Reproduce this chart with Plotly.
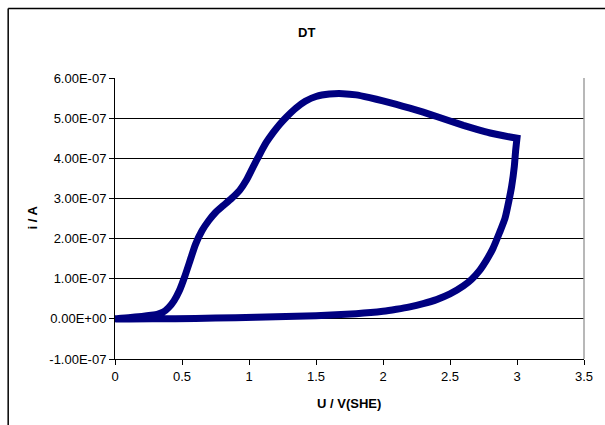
import plotly.graph_objects as go

# ---- data (potential in V vs SHE, current in units of 1e-7 A) ----
fwd_u = [0.0, 0.1, 0.2, 0.27, 0.32, 0.36, 0.4, 0.44, 0.48, 0.52, 0.56, 0.6, 0.65, 0.7, 0.75, 0.8,
         0.87, 0.93, 0.98, 1.03, 1.08, 1.13, 1.18, 1.23, 1.28, 1.35, 1.42, 1.5, 1.6, 1.7,
         1.8, 1.9, 2.0, 2.1, 2.2, 2.3, 2.4, 2.5, 2.6, 2.7, 2.8, 2.9, 3.0]
fwd_i = [0.0, 0.03, 0.06, 0.09, 0.12, 0.17, 0.28, 0.45, 0.7, 1.05, 1.45, 1.85, 2.2, 2.45, 2.65, 2.8,
         3.0, 3.2, 3.45, 3.78, 4.1, 4.4, 4.64, 4.85, 5.03, 5.25, 5.42, 5.54, 5.6, 5.61,
         5.58, 5.51, 5.43, 5.34, 5.25, 5.15, 5.04, 4.93, 4.82, 4.72, 4.63, 4.56, 4.5]
rev_u = [3.0, 2.99, 2.98, 2.96, 2.94, 2.91, 2.87, 2.82, 2.77, 2.72, 2.66, 2.6, 2.5, 2.4,
         2.3, 2.2, 2.1, 2.0, 1.8, 1.5, 1.2, 0.9, 0.6, 0.3, 0.0]
rev_i = [4.5, 4.2, 3.8, 3.3, 2.95, 2.5, 2.15, 1.75, 1.45, 1.2, 0.98, 0.82, 0.62, 0.48,
         0.38, 0.3, 0.24, 0.19, 0.13, 0.08, 0.05, 0.03, 0.01, 0.0, 0.0]
scale = 1e-7

y_tickvals = [-1, 0, 1, 2, 3, 4, 5, 6]
y_ticktext = ["-1.00E-07", "0.00E+00", "1.00E-07", "2.00E-07", "3.00E-07",
              "4.00E-07", "5.00E-07", "6.00E-07"]
x_tickvals = [0, 0.5, 1, 1.5, 2, 2.5, 3, 3.5]
x_ticktext = ["0", "0.5", "1", "1.5", "2", "2.5", "3", "3.5"]

u = fwd_u + rev_u
i = [v * scale for v in fwd_i + rev_i]

FONT = "Liberation Sans, Arial, sans-serif"

fig = go.Figure()
fig.add_trace(go.Scatter(x=u, y=i, mode="lines",
                         line=dict(color="#000080", width=7, shape="spline", smoothing=0.5),
                         showlegend=False, hoverinfo="skip"))

L, R, T, B = 115, 18, 78, 66
W, H = 605, 425
pw, ph = W - L - R, H - T - B

def px_x(px):
    return (px - L) / pw

def px_y(py):
    return (H - B - py) / ph

frame = dict(color="black", width=1.5)

fig.update_layout(
    width=W, height=H, autosize=False,
    margin=dict(l=L, r=R, t=T, b=B, pad=0),
    paper_bgcolor="white", plot_bgcolor="white",
    font=dict(family=FONT, size=13, color="black"),
    xaxis=dict(range=[0, 3.5], tickvals=x_tickvals, ticktext=x_ticktext,
               showgrid=False, zeroline=False, showline=True, linecolor="black",
               linewidth=1, ticks="outside", ticklen=5, tickcolor="black",
               tickfont=dict(family=FONT, size=13)),
    yaxis=dict(range=[-1e-7, 6e-7], tickvals=[v * scale for v in y_tickvals],
               ticktext=y_ticktext, showgrid=True, gridcolor="black", gridwidth=1,
               zeroline=False, showline=True, linecolor="black", linewidth=1,
               ticks="outside", ticklen=5, tickcolor="black",
               tickfont=dict(family=FONT, size=13)),
    shapes=[
        # outer chart frame (left and top edges visible)
        dict(type="line", xref="paper", yref="paper",
             x0=px_x(7.5), x1=px_x(7.5), y0=px_y(8.5), y1=px_y(430), line=frame),
        dict(type="line", xref="paper", yref="paper",
             x0=px_x(7.5), x1=px_x(610), y0=px_y(8.5), y1=px_y(8.5), line=frame),
        # right plot-area border (gray)
        dict(type="line", xref="paper", yref="paper", x0=1, x1=1, y0=0, y1=1,
             line=dict(color="#a0a0a0", width=1.5)),
    ],
    annotations=[
        dict(text="<b>DT</b>", xref="paper", yref="paper", x=px_x(308), y=px_y(33),
             showarrow=False, font=dict(family=FONT, size=13), xanchor="center", yanchor="middle"),
        dict(text="<b>i / A</b>", xref="paper", yref="paper", x=px_x(31), y=px_y(218),
             showarrow=False, textangle=-90, font=dict(family=FONT, size=13),
             xanchor="center", yanchor="middle"),
        dict(text="<b>U / V(SHE)</b>", xref="paper", yref="paper", x=px_x(350), y=px_y(403),
             showarrow=False, font=dict(family=FONT, size=13), xanchor="center", yanchor="middle"),
    ],
)

fig.write_html("out.html", config={"displayModeBar": False},
               post_script="document.body.style.margin='0';document.body.style.overflow='hidden';")
